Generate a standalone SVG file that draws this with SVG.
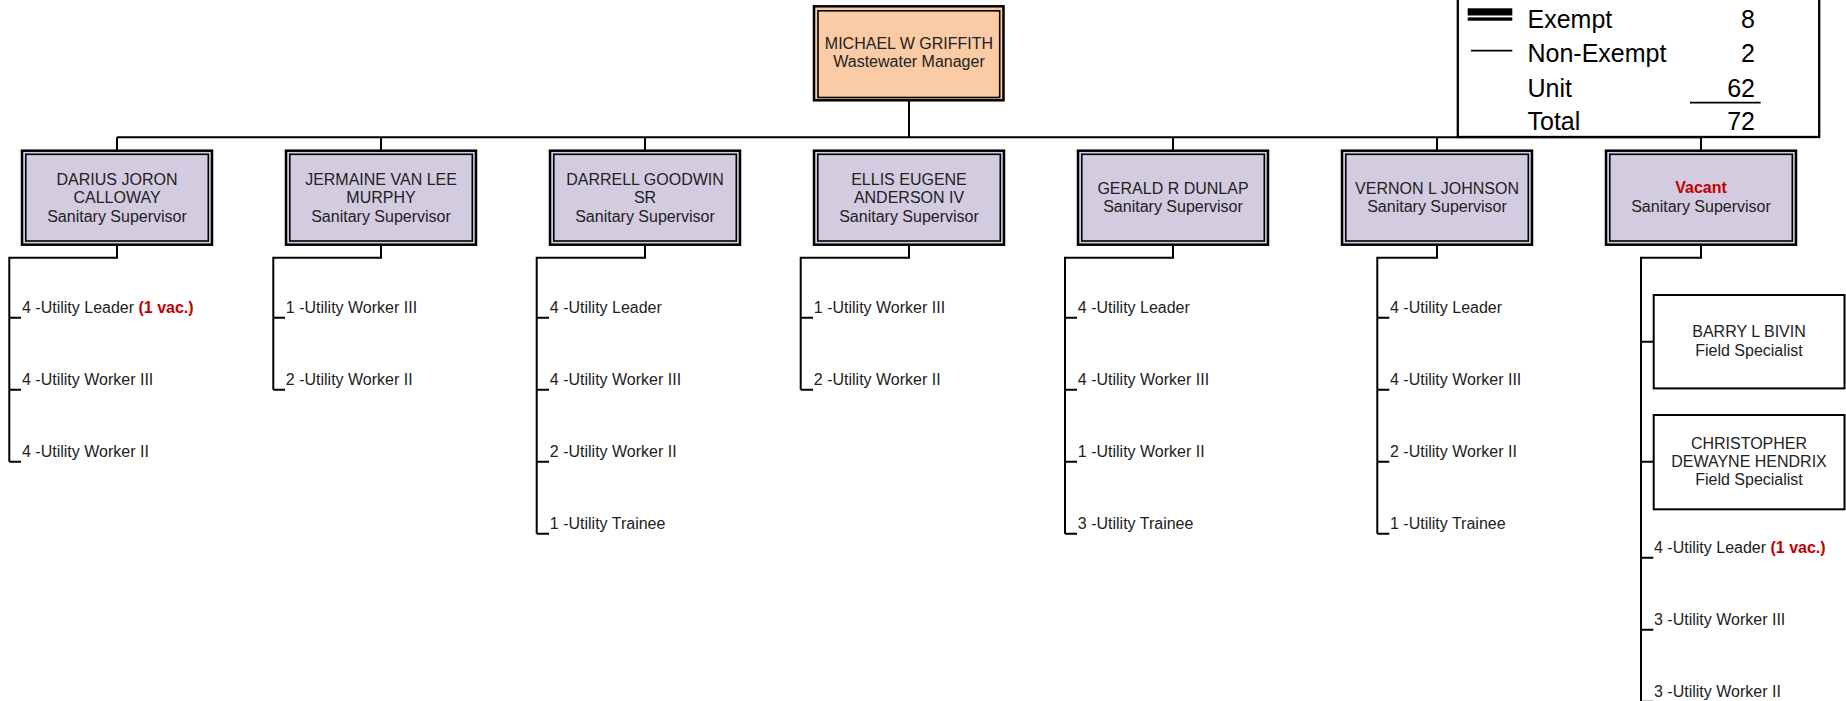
<svg xmlns="http://www.w3.org/2000/svg" width="1846" height="701" viewBox="0 0 1846 701">
<style>
text{font-family:"Liberation Sans",Arial,sans-serif;font-size:16px;fill:#222}
.c{text-anchor:middle}
.lg{font-size:25px;fill:#000}
.num{text-anchor:end}
.vac{fill:#C00000;font-weight:bold}
.so{fill:#D3CBE0;stroke:#000;stroke-width:2.5}
.mo{fill:#FACBA4;stroke:#000;stroke-width:2.5}
.si{fill:none;stroke:#000;stroke-width:1.6}
.fb{fill:#fff;stroke:#000;stroke-width:2}
.ln{fill:none;stroke:#000;stroke-width:2}
</style>
<rect width="1846" height="701" fill="#fff"/>

<g id="legend">
<rect x="1457.8" y="-10" width="361.4" height="147" fill="#fff" stroke="#000" stroke-width="2.3"/>
<rect x="1467.7" y="8.3" width="44.6" height="7.2" fill="#000"/>
<rect x="1467.7" y="17.4" width="44.6" height="3.3" fill="#000"/>
<line x1="1471" y1="50.6" x2="1512.3" y2="50.6" stroke="#000" stroke-width="1.7"/>
<text class="lg" x="1527.5" y="27.8">Exempt</text>
<text class="lg" x="1527.5" y="62.3">Non-Exempt</text>
<text class="lg" x="1527.5" y="96.5">Unit</text>
<text class="lg" x="1527.5" y="130.4">Total</text>
<text class="lg num" x="1755" y="27.8">8</text>
<text class="lg num" x="1755" y="62.3">2</text>
<text class="lg num" x="1755" y="96.5">62</text>
<text class="lg num" x="1755" y="130.4">72</text>
<line x1="1690" y1="102.7" x2="1760.7" y2="102.7" stroke="#000" stroke-width="1.7"/>
</g>

<g id="connectors" class="ln">
<path d="M909 100.3V137.3M117 137.3H1701M117 137.3V150.7M381 137.3V150.7M645 137.3V150.7M1173 137.3V150.7M1437 137.3V150.7M1701 137.3V150.7"/>
<path d="M117 244.7V257.7H9.3V461.7M9.3 317.7H21M9.3 389.7H21M9.3 461.7H21"/>
<path d="M381 244.7V257.7H273.3V389.7M273.3 317.7H285M273.3 389.7H285"/>
<path d="M645 244.7V257.7H536.7V533.7M536.7 317.7H549M536.7 389.7H549M536.7 461.7H549M536.7 533.7H549"/>
<path d="M909 244.7V257.7H800.7V389.7M800.7 317.7H813M800.7 389.7H813"/>
<path d="M1173 244.7V257.7H1065V533.7M1065 317.7H1077M1065 389.7H1077M1065 461.7H1077M1065 533.7H1077"/>
<path d="M1437 244.7V257.7H1377.3V533.7M1377.3 317.7H1389.3M1377.3 389.7H1389.3M1377.3 461.7H1389.3M1377.3 533.7H1389.3"/>
<path d="M1701 244.7V257.7H1641V702M1641 341.7H1653.7M1641 461.7H1653.7M1641 557.7H1653.3M1641 629.7H1653.3M1641 701.7H1653.3"/>
</g>

<g id="manager">
<rect class="mo" x="814" y="6.3" width="189.5" height="94"/>
<rect class="si" x="818" y="10.8" width="181.7" height="86.7"/>
<text class="c" x="909" y="49">MICHAEL W GRIFFITH</text>
<text class="c" x="909" y="67">Wastewater Manager</text>
</g>

<g id="sup-calloway">
<rect class="so" x="22" y="150.7" width="190" height="94"/>
<rect class="si" x="25.8" y="154.3" width="182.5" height="86.7"/>
<text class="c" x="117" y="184.5">DARIUS JORON</text>
<text class="c" x="117" y="203.1">CALLOWAY</text>
<text class="c" x="117" y="221.7">Sanitary Supervisor</text>
</g>
<g id="sup-murphy">
<rect class="so" x="286" y="150.7" width="190" height="94"/>
<rect class="si" x="289.8" y="154.3" width="182.5" height="86.7"/>
<text class="c" x="381" y="184.5">JERMAINE VAN LEE</text>
<text class="c" x="381" y="203.1">MURPHY</text>
<text class="c" x="381" y="221.7">Sanitary Supervisor</text>
</g>
<g id="sup-goodwin">
<rect class="so" x="550" y="150.7" width="190" height="94"/>
<rect class="si" x="553.8" y="154.3" width="182.5" height="86.7"/>
<text class="c" x="645" y="184.5">DARRELL GOODWIN</text>
<text class="c" x="645" y="203.1">SR</text>
<text class="c" x="645" y="221.7">Sanitary Supervisor</text>
</g>
<g id="sup-anderson">
<rect class="so" x="814" y="150.7" width="190" height="94"/>
<rect class="si" x="817.8" y="154.3" width="182.5" height="86.7"/>
<text class="c" x="909" y="184.5">ELLIS EUGENE</text>
<text class="c" x="909" y="203.1">ANDERSON IV</text>
<text class="c" x="909" y="221.7">Sanitary Supervisor</text>
</g>
<g id="sup-dunlap">
<rect class="so" x="1078" y="150.7" width="190" height="94"/>
<rect class="si" x="1081.8" y="154.3" width="182.5" height="86.7"/>
<text class="c" x="1173" y="193.6">GERALD R DUNLAP</text>
<text class="c" x="1173" y="212">Sanitary Supervisor</text>
</g>
<g id="sup-johnson">
<rect class="so" x="1342" y="150.7" width="190" height="94"/>
<rect class="si" x="1345.8" y="154.3" width="182.5" height="86.7"/>
<text class="c" x="1437" y="193.6">VERNON L JOHNSON</text>
<text class="c" x="1437" y="212">Sanitary Supervisor</text>
</g>
<g id="sup-vacant">
<rect class="so" x="1606" y="150.7" width="190" height="94"/>
<rect class="si" x="1609.8" y="154.3" width="182.5" height="86.7"/>
<text class="c vac" x="1701" y="193.3">Vacant</text>
<text class="c" x="1701" y="212">Sanitary Supervisor</text>
</g>

<g id="items-calloway">
<text x="22" y="313.3">4 -Utility Leader <tspan class="vac">(1 vac.)</tspan></text>
<text x="22" y="385.3">4 -Utility Worker III</text>
<text x="22" y="457.3">4 -Utility Worker II</text>
</g>
<g id="items-murphy">
<text x="285.8" y="313.3">1 -Utility Worker III</text>
<text x="285.8" y="385.3">2 -Utility Worker II</text>
</g>
<g id="items-goodwin">
<text x="549.8" y="313.3">4 -Utility Leader</text>
<text x="549.8" y="385.3">4 -Utility Worker III</text>
<text x="549.8" y="457.3">2 -Utility Worker II</text>
<text x="549.8" y="529.3">1 -Utility Trainee</text>
</g>
<g id="items-anderson">
<text x="813.8" y="313.3">1 -Utility Worker III</text>
<text x="813.8" y="385.3">2 -Utility Worker II</text>
</g>
<g id="items-dunlap">
<text x="1077.8" y="313.3">4 -Utility Leader</text>
<text x="1077.8" y="385.3">4 -Utility Worker III</text>
<text x="1077.8" y="457.3">1 -Utility Worker II</text>
<text x="1077.8" y="529.3">3 -Utility Trainee</text>
</g>
<g id="items-johnson">
<text x="1390" y="313.3">4 -Utility Leader</text>
<text x="1390" y="385.3">4 -Utility Worker III</text>
<text x="1390" y="457.3">2 -Utility Worker II</text>
<text x="1390" y="529.3">1 -Utility Trainee</text>
</g>

<g id="bivin">
<rect class="fb" x="1653.7" y="295" width="190.8" height="93.4"/>
<text class="c" x="1749" y="337">BARRY L BIVIN</text>
<text class="c" x="1749" y="356">Field Specialist</text>
</g>
<g id="hendrix">
<rect class="fb" x="1653.7" y="415" width="190.8" height="94.3"/>
<text class="c" x="1749" y="448.5">CHRISTOPHER</text>
<text class="c" x="1749" y="466.9">DEWAYNE HENDRIX</text>
<text class="c" x="1749" y="485.3">Field Specialist</text>
</g>
<g id="items-vacant">
<text x="1654" y="553.3">4 -Utility Leader <tspan class="vac">(1 vac.)</tspan></text>
<text x="1654" y="625.3">3 -Utility Worker III</text>
<text x="1654" y="697.3">3 -Utility Worker II</text>
</g>
</svg>
